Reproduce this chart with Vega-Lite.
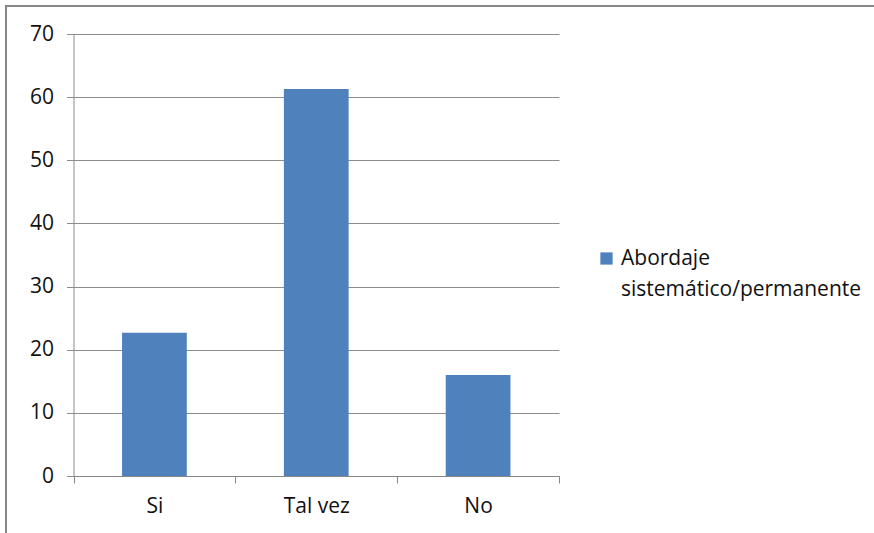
{
  "$schema": "https://vega.github.io/schema/vega-lite/v6.json",
  "width": 874,
  "height": 533,
  "autosize": {"type": "none"},
  "padding": {"left": 6, "top": 6, "right": -6, "bottom": -6},
  "background": "white",
  "config": {
    "view": {"stroke": "#878787", "strokeWidth": 2},
    "font": "Open Sans",
    "style": {"guide-label": {"lineHeight": 31}}
  },
  "data": {
    "values": [
      {"respuesta": "Si", "valor": 22.7, "serie": "Abordaje sistemático/permanente"},
      {"respuesta": "Tal vez", "valor": 61.3, "serie": "Abordaje sistemático/permanente"},
      {"respuesta": "No", "valor": 16.0, "serie": "Abordaje sistemático/permanente"}
    ]
  },
  "mark": {"type": "bar", "width": {"band": 0.4}},
  "encoding": {
    "x": {
      "field": "respuesta",
      "type": "nominal",
      "sort": null,
      "scale": {"range": [67.5, 553], "paddingInner": 0, "paddingOuter": 0},
      "axis": {
        "orient": "bottom",
        "offset": -63,
        "title": null,
        "labelAngle": 0,
        "grid": false,
        "tickBand": "extent",
        "tickSize": 7,
        "tickColor": "#868686",
        "domainColor": "#868686",
        "labelFont": "Open Sans",
        "labelFontSize": 21,
        "labelColor": "#111111",
        "labelPadding": 12
      }
    },
    "y": {
      "field": "valor",
      "type": "quantitative",
      "scale": {"domain": [0, 70], "range": [470, 28], "nice": false, "zero": true},
      "axis": {
        "orient": "left",
        "offset": -67.5,
        "title": null,
        "values": [0, 10, 20, 30, 40, 50, 60, 70],
        "grid": true,
        "gridColor": "#8c8c8c",
        "tickSize": 7,
        "tickColor": "#8c8c8c",
        "domainColor": "#8c8c8c",
        "labelFont": "Open Sans",
        "labelFontSize": 21,
        "labelColor": "#111111",
        "labelPadding": 13
      }
    },
    "color": {
      "field": "serie",
      "type": "nominal",
      "scale": {"range": ["#4f81bd"]},
      "legend": {
        "orient": "none",
        "legendX": 590,
        "legendY": 242,
        "title": null,
        "symbolType": "square",
        "symbolSize": 150,
        "symbolStrokeWidth": 0,
        "labelFont": "Open Sans",
        "labelFontSize": 21,
        "labelColor": "#111111",
        "labelLimit": 400,
        "labelExpr": "['Abordaje', 'sistemático/permanente']"
      }
    }
  }
}
